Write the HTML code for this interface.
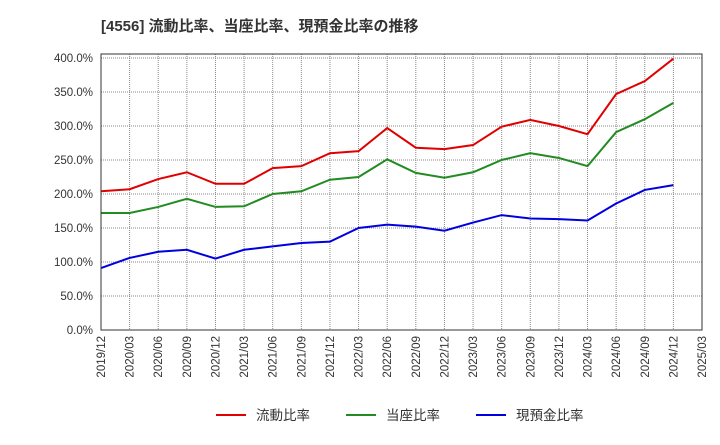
<!DOCTYPE html>
<html><head><meta charset="utf-8"><style>
body{margin:0;background:#fff;font-family:"Liberation Sans","Noto Sans CJK JP",sans-serif;}
</style></head><body>
<svg width="720" height="440" xmlns="http://www.w3.org/2000/svg" id="chart">
<text x="101" y="31" font-size="15" font-weight="bold" fill="#333" font-family="Liberation Sans, Noto Sans CJK JP, sans-serif">[4556]  流動比率、当座比率、現預金比率の推移</text>
<g id="grid"></g><g id="series"></g><g id="axes"></g>
</svg>
<script>
const xLabels=["2019/12","2020/03","2020/06","2020/09","2020/12","2021/03","2021/06","2021/09","2021/12","2022/03","2022/06","2022/09","2022/12","2023/03","2023/06","2023/09","2023/12","2024/03","2024/06","2024/09","2024/12","2025/03"];
const yTicks=[0,50,100,150,200,250,300,350,400];
const currentRatio=[204,207,222,232,215,215,238,241,260,263,297,268,266,272,299,309,300,288,347,366,399];
const quickRatio=[172,172,181,193,181,182,200,204,221,225,251,231,224,232,250,260,253,241,291,310,334];
const cashRatio=[91,106,115,118,105,118,123,128,130,150,155,152,146,158,169,164,163,161,186,206,213];
const NS="http://www.w3.org/2000/svg";
const L=101,R=702,T=54,B=330;
const xs=i=>L+i*(R-L)/(xLabels.length-1);
const ys=v=>B-v*(B-58)/400;
function mk(tag,attrs,parent){const e=document.createElementNS(NS,tag);for(const k in attrs)e.setAttribute(k,attrs[k]);document.getElementById(parent).appendChild(e);return e;}
const frame=mk('rect',{x:L,y:T,width:R-L,height:B-T,fill:'none',stroke:'#333','stroke-width':1},'axes');


yTicks.forEach(v=>{
  const g=mk('line',{x1:L,x2:R,y1:ys(v),y2:ys(v),stroke:'#888','stroke-dasharray':'1,1'},'grid');
  
  
  const t=mk('text',{x:L-8,y:ys(v)+4,'text-anchor':'end','font-size':11.5,fill:'#333'},'axes');
  t.textContent=v.toFixed(1)+'%';
  
  
});
xLabels.forEach((lab,i)=>{
  const g=mk('line',{x1:xs(i),x2:xs(i),y1:T,y2:B,stroke:'#888','stroke-dasharray':'1,1'},'grid');
  
  
  const t=mk('text',{x:xs(i)+4,y:B+6,'text-anchor':'end','font-size':11.5,fill:'#333',transform:`rotate(-90 ${xs(i)+4} ${B+6})`},'axes');
  t.textContent=lab;
  
  
});
function line(data,color,name){
  const p=mk('polyline',{points:data.map((v,i)=>xs(i)+','+ys(v)).join(' '),fill:'none',stroke:color,'stroke-width':2},'series');
  
  
}
line(currentRatio,'#e00000','current-ratio-line');
line(quickRatio,'#228b22','quick-ratio-line');
line(cashRatio,'#0000e0','cash-ratio-line');
[["流動比率","#e00000",216],["当座比率","#228b22",346],["現預金比率","#0000e0",476]].forEach(([n,c,x])=>{
  const l=mk('line',{x1:x,x2:x+30,y1:415,y2:415,stroke:c,'stroke-width':2},'axes');
  
  
  const t=mk('text',{x:x+40,y:420,'font-size':13.5,fill:'#333'},'axes');
  t.textContent=n;
  
  
});
</script>
</body></html>
